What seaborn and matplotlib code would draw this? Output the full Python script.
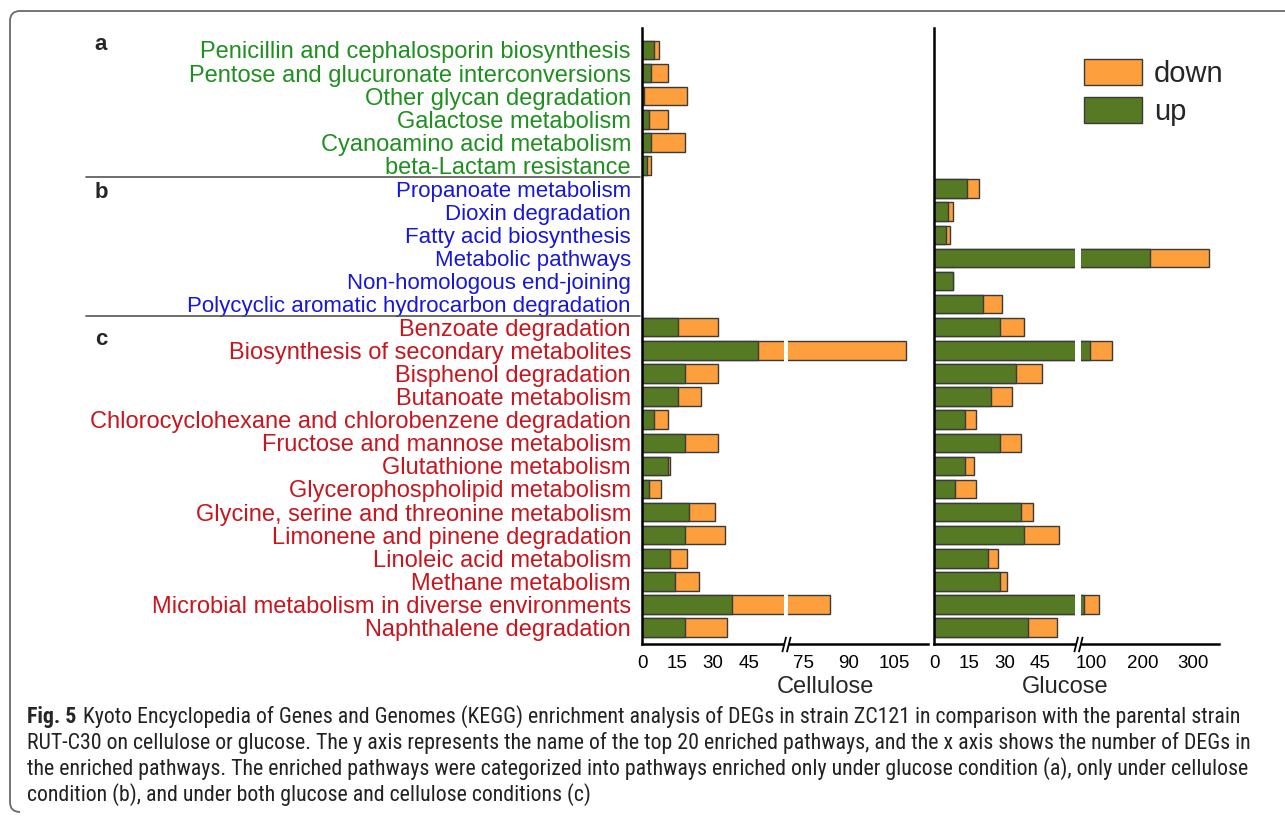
import numpy as np
import pandas as pd
import matplotlib
matplotlib.use("Agg")
import matplotlib.pyplot as plt
import matplotlib.transforms as mtransforms
from matplotlib.path import Path
from matplotlib.patches import Patch, PathPatch
from matplotlib.lines import Line2D
from matplotlib import font_manager
import seaborn as sns

# ---------------- data ----------------
group_a = [
    "Penicillin and cephalosporin biosynthesis",
    "Pentose and glucuronate interconversions",
    "Other glycan degradation",
    "Galactose metabolism",
    "Cyanoamino acid metabolism",
    "beta-Lactam resistance",
]
group_b = [
    "Propanoate metabolism",
    "Dioxin degradation",
    "Fatty acid biosynthesis",
    "Metabolic pathways",
    "Non-homologous end-joining",
    "Polycyclic aromatic hydrocarbon degradation",
]
group_c = [
    "Benzoate degradation",
    "Biosynthesis of secondary metabolites",
    "Bisphenol degradation",
    "Butanoate metabolism",
    "Chlorocyclohexane and chlorobenzene degradation",
    "Fructose and mannose metabolism",
    "Glutathione metabolism",
    "Glycerophospholipid metabolism",
    "Glycine, serine and threonine metabolism",
    "Limonene and pinene degradation",
    "Linoleic acid metabolism",
    "Methane metabolism",
    "Microbial metabolism in diverse environments",
    "Naphthalene degradation",
]

# Number of DEGs (up / down) on cellulose: groups a and c
cellulose_up_a = [5, 4, 1, 3, 4, 2]
cellulose_down_a = [2, 7, 18, 8, 14, 2]
cellulose_up_c = [15, 49, 18, 15, 5, 18, 11, 3, 20, 18, 12, 14, 38, 18]
cellulose_down_c = [17, 60, 14, 10, 6, 14, 1, 5, 11, 17, 7, 10, 46, 18]

# Number of DEGs (up / down) on glucose: groups b and c
glucose_up_b = [14, 6, 5, 215, 8, 21]
glucose_down_b = [5, 2, 2, 116, 0, 8]
glucose_up_c = [28, 96, 35, 24, 13, 28, 13, 9, 37, 38, 23, 28, 85, 40]
glucose_down_c = [10, 44, 11, 9, 5, 9, 4, 9, 5, 15, 4, 3, 29, 12]

cellulose_ticks = [0, 15, 30, 45, 75, 90, 105]
glucose_ticks = [0, 15, 30, 45, 100, 200, 300]

legend_labels = ["down", "up"]
group_letters = ["a", "b", "c"]

caption_bold = "Fig. 5"
caption_lines = [
    "Kyoto Encyclopedia of Genes and Genomes (KEGG) enrichment analysis of DEGs in strain ZC121 in comparison with the parental strain",
    "RUT-C30 on cellulose or glucose. The y axis represents the name of the top 20 enriched pathways, and the x axis shows the number of DEGs in",
    "the enriched pathways. The enriched pathways were categorized into pathways enriched only under glucose condition (a), only under cellulose",
    "condition (b), and under both glucose and cellulose conditions (c)",
]

# ---------------- styling ----------------
sns.set_style("white")
plt.rcParams["font.family"] = ["Liberation Sans", "DejaVu Sans"]

GREEN = "#557a23"
ORANGE = "#fd9f3c"
EDGE = "#3a3a3a"
COL_A = "#1f8f1f"
COL_B = "#1717d8"
COL_C = "#c8161e"

pathways = group_a + group_b + group_c
label_colors = [COL_A] * len(group_a) + [COL_B] * len(group_b) + [COL_C] * len(group_c)
label_sizes = [17] * len(group_a) + [16] * len(group_b) + [17] * len(group_c)


def frame(names, ups, downs):
    df = pd.DataFrame({"pathway": names, "up": ups, "down": downs})
    df["total"] = df["up"] + df["down"]
    return df


df_cell = frame(group_a + group_c, cellulose_up_a + cellulose_up_c,
                cellulose_down_a + cellulose_down_c)
df_glu = frame(group_b + group_c, glucose_up_b + glucose_up_c,
               glucose_down_b + glucose_down_c)


def break_scale(lo_end, hi_start, lo_slope, gap, hi_slope):
    """Piecewise-linear axis with a compressed gap between lo_end and hi_start."""
    gap_slope = gap / (hi_start - lo_end)
    y1 = lo_end * lo_slope
    y2 = y1 + gap

    def fwd(x):
        x = np.asarray(x, dtype=float)
        return np.where(x <= lo_end, x * lo_slope,
                        np.where(x < hi_start, y1 + (x - lo_end) * gap_slope,
                                 y2 + (x - hi_start) * hi_slope))

    def inv(y):
        y = np.asarray(y, dtype=float)
        return np.where(y <= y1, y / lo_slope,
                        np.where(y < y2, lo_end + (y - y1) / gap_slope,
                                 hi_start + (y - y2) / hi_slope))

    return fwd, inv


W, H = 1285, 816
fig = plt.figure(figsize=(W / 100, H / 100), dpi=100)
fig.patch.set_facecolor("white")

ax_top, ax_bot = 28, 644
ax_c = fig.add_axes([642 / W, (H - ax_bot) / H, 286 / W, (ax_bot - ax_top) / H])
ax_g = fig.add_axes([934 / W, (H - ax_bot) / H, 285 / W, (ax_bot - ax_top) / H])

panels = [
    (ax_c, df_cell, (60, 70, 2.37, 4, 3.02), 116.3, cellulose_ticks, "Cellulose", 0.64),
    (ax_g, df_glu, (60, 80, 2.35, 6, 0.508), 350, glucose_ticks, "Glucose", 0.46),
]

break_marker = Path([(-0.55, -1), (-0.05, 1), (0.05, -1), (0.55, 1)],
                    [Path.MOVETO, Path.LINETO, Path.MOVETO, Path.LINETO])

for ax, df, brk, xmax, ticks, xlabel, lx in panels:
    sns.barplot(data=df, x="total", y="pathway", order=pathways, orient="h",
                color=ORANGE, saturation=1, edgecolor=EDGE, linewidth=1.0,
                width=0.8, errorbar=None, ax=ax)
    sns.barplot(data=df, x="up", y="pathway", order=pathways, orient="h",
                color=GREEN, saturation=1, edgecolor=EDGE, linewidth=1.0,
                width=0.8, errorbar=None, ax=ax)

    fwd, inv = break_scale(*brk)
    ax.set_xscale("function", functions=(fwd, inv))
    ax.set_xlim(0, xmax)
    ax.set_ylim(len(pathways) - 1 + 0.71, -0.95)

    ax.set_xticks(ticks)
    ax.set_xticklabels([str(t) for t in ticks], fontsize=13.5)
    ax.xaxis.set_minor_locator(matplotlib.ticker.NullLocator())
    ax.tick_params(axis="x", length=5, width=1.5, direction="out", pad=3,
                   color="black", labelcolor="black")
    ax.set_xlabel(xlabel, fontsize=17)
    ax.xaxis.set_label_coords(lx, -0.052)
    ax.set_ylabel("")

    for side in ("top", "right"):
        ax.spines[side].set_visible(False)
    for side in ("left", "bottom"):
        ax.spines[side].set_linewidth(1.8)
        ax.spines[side].set_color("black")

    # white gap through bars at the axis break
    lo_end, hi_start = brk[0], brk[1]
    ax.axvspan(lo_end, hi_start, ymin=0.01, ymax=1, color="white", lw=0, zorder=3)
    xc = float(inv(fwd(lo_end) + brk[3] / 2))
    ax.plot([xc], [0], transform=ax.get_xaxis_transform(), marker="s",
            markersize=3.2, color="white", mec="none", clip_on=False, zorder=6)
    ax.plot([xc], [0], transform=ax.get_xaxis_transform(), marker=break_marker,
            markersize=11, color="black", mew=1.3, clip_on=False, zorder=7,
            linestyle="none")

# y labels on the cellulose panel only
ax_c.set_yticks(range(len(pathways)))
ax_c.set_yticklabels(pathways)
for lab, col, fs in zip(ax_c.get_yticklabels(), label_colors, label_sizes):
    lab.set_color(col)
    lab.set_fontsize(fs)
ax_c.tick_params(axis="y", length=0, pad=8)
ax_g.set_yticks(range(len(pathways)))
ax_g.set_yticklabels([])
ax_g.tick_params(axis="y", length=0)

# group separators
sep_tr = mtransforms.blended_transform_factory(ax_c.transAxes, ax_c.transData)
for yb in (len(group_a) - 0.5, len(group_a) + len(group_b) - 0.5):
    ax_c.add_line(Line2D([(86 - 642) / 286, -0.008], [yb, yb], transform=sep_tr,
                         color="#555555", lw=1.2, clip_on=False))

# group letters
for letter, yy in zip(group_letters, (44, 193, 339)):
    fig.text(101 / W, 1 - yy / H, letter, fontsize=16, fontweight="bold",
             ha="center", va="center")

# legend
handles = [Patch(facecolor=ORANGE, edgecolor=EDGE, label=legend_labels[0]),
           Patch(facecolor=GREEN, edgecolor=EDGE, label=legend_labels[1])]
fig.legend(handles=handles, loc="upper left", bbox_to_anchor=(1084 / W, 1 - 59 / H),
           frameon=False, fontsize=21, handlelength=2.0, handleheight=1.0,
           labelspacing=0.3, handletextpad=0.4, borderpad=0, borderaxespad=0)

# outer frame (top edge and rounded left edge)
px = mtransforms.Affine2D().scale(1 / W, 1 / H) + fig.transFigure
verts = [(W, H - 11), (20, H - 11), (10, H - 11), (10, H - 21),
         (10, H - 802), (10, H - 812), (20, H - 812)]
codes = [Path.MOVETO, Path.LINETO, Path.CURVE3, Path.CURVE3,
         Path.LINETO, Path.CURVE3, Path.CURVE3]
fig.add_artist(PathPatch(Path(verts, codes), facecolor="none", edgecolor="#6a6a6a",
                         lw=1.3, transform=px))

# caption
names = {f.name for f in font_manager.fontManager.ttflist}
cap_font = next((f for f in ["Liberation Sans Narrow", "Roboto Condensed", "Open Sans"]
                 if f in names), "DejaVu Sans")

cap_size = 13.0
line_y = [717, 743, 769, 795]
x0 = 27
renderer = fig.canvas.get_renderer()
bold = fig.text(x0 / W, 1 - line_y[0] / H, caption_bold, fontsize=cap_size,
                fontweight="bold", family=cap_font, ha="left", va="center")
bb = bold.get_window_extent(renderer)
x1 = bb.x1 / W + 8 / W
first = fig.text(x1, 1 - line_y[0] / H, caption_lines[0], fontsize=cap_size,
                 family=cap_font, ha="left", va="center", color="#222222")
ext = first.get_window_extent(renderer)
scale = (1232 - bb.x1 - 8) / ext.width
cap_size = cap_size * scale
bold.set_fontsize(cap_size)
bb = bold.get_window_extent(renderer)
first.set_fontsize(cap_size)
first.set_x(bb.x1 / W + 7 / W)
for txt, yy in zip(caption_lines[1:], line_y[1:]):
    fig.text(x0 / W, 1 - yy / H, txt, fontsize=cap_size, family=cap_font,
             ha="left", va="center", color="#222222")

fig.savefig("out.png", dpi=100, facecolor="white")
